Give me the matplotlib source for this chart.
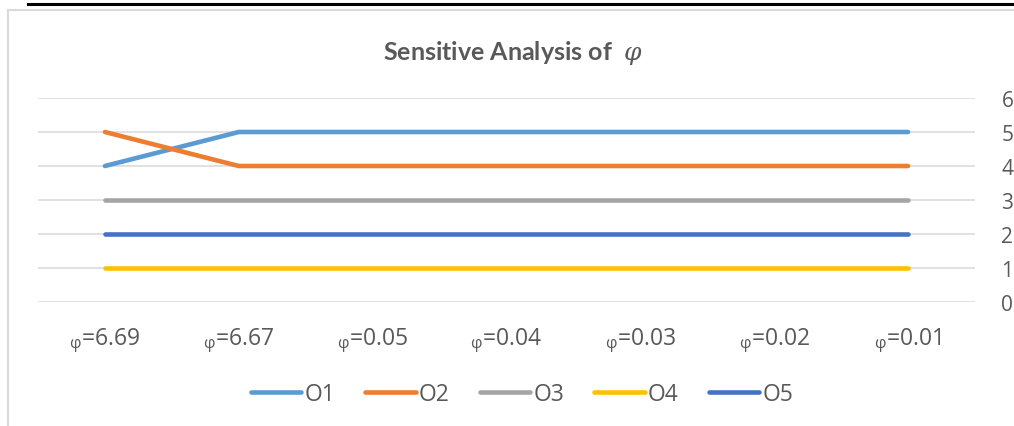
import matplotlib
matplotlib.use("Agg")
import matplotlib.pyplot as plt
from matplotlib.lines import Line2D
from matplotlib.patches import Rectangle

plt.rcParams['font.family'] = ['Open Sans', 'DejaVu Sans']
plt.rcParams['mathtext.fontset'] = 'custom'
plt.rcParams['mathtext.rm'] = 'Open Sans'
plt.rcParams['mathtext.it'] = 'DejaVu Serif:italic'

# Parameter settings and the resulting rank of each option
phi_values = ["6.69", "6.67", "0.05", "0.04", "0.03", "0.02", "0.01"]
O1 = [4, 5, 5, 5, 5, 5, 5]
O2 = [5, 4, 4, 4, 4, 4, 4]
O3 = [3, 3, 3, 3, 3, 3, 3]
O4 = [1, 1, 1, 1, 1, 1, 1]
O5 = [2, 2, 2, 2, 2, 2, 2]
series_names = ["O1", "O2", "O3", "O4", "O5"]
series_colors = ["#5B9BD5", "#ED7D31", "#A5A5A5", "#FFC000", "#4472C4"]
y_ticks = [0, 1, 2, 3, 4, 5, 6]

W, H = 1014, 427
fig = plt.figure(figsize=(W / 100, H / 100), dpi=100)
fig.patch.set_facecolor("white")

# Page rule above the chart and the chart frame
fig.add_artist(Line2D([28 / W, 1.0], [1 - 5 / H, 1 - 5 / H], color="black", lw=2.2))
fig.add_artist(Rectangle((8 / W, -0.1), 1.2, 1 - 11 / H + 0.1, transform=fig.transFigure,
                         fill=False, edgecolor="#D9D9D9", lw=1.5))

ax = fig.add_axes([38 / W, 1 - 303 / H, (975 - 38) / W, (303 - 99) / H])
x = list(range(len(phi_values)))
for vals, name, col in zip([O1, O2, O3, O4, O5], series_names, series_colors):
    ax.plot(x, vals, color=col, lw=3.3, solid_capstyle="round", label=name, zorder=3)

ax.set_xlim(-0.5, len(phi_values) - 0.5)
ax.set_ylim(0, 6)
ax.set_yticks(y_ticks)
ax.yaxis.tick_right()
ax.tick_params(axis="y", length=0, pad=19, labelsize=15, labelcolor="#595959")
ax.grid(axis="y", color="#D9D9D9", lw=1.1, zorder=0)
ax.set_xticks(x)
ax.set_xticklabels([r"$_{\mathrm{φ}}$=" + v for v in phi_values])
ax.tick_params(axis="x", length=0, pad=17, labelsize=16.5, labelcolor="#595959")
for s in ax.spines.values():
    s.set_visible(False)

fig.text(513 / W, 1 - 53 / H, r"Sensitive Analysis of  $\varphi$", ha="center", va="center",
         fontsize=18, fontweight="bold", color="#595959", family=["Lato", "DejaVu Sans"])

fig.legend(loc="center", bbox_to_anchor=(522 / W, 1 - 395 / H), ncol=5, frameon=False,
           fontsize=16.5, labelcolor="#595959", handlelength=2.2, handletextpad=0.15,
           columnspacing=1.3)

fig.savefig("out.png", dpi=100)
